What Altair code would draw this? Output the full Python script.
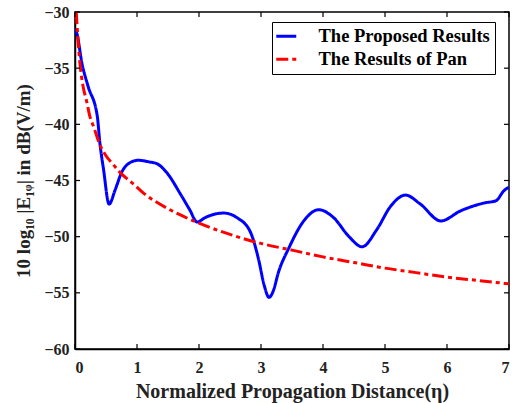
import altair as alt
import pandas as pd

# Blue: The Proposed Results
blue_x = [0.0, 0.03, 0.11, 0.21, 0.36, 0.40, 0.46, 0.55, 0.65, 0.75, 0.89, 1.02, 1.20, 1.32,
          1.48, 1.70, 1.85, 1.97, 2.10, 2.25, 2.40, 2.61, 2.83, 2.96, 3.05, 3.13, 3.20, 3.28,
          3.45, 3.69, 3.93, 4.17, 4.42, 4.63, 4.87, 5.09, 5.33, 5.57, 5.90, 6.22, 6.60, 6.79,
          6.92, 7.0]
blue_y = [-31.5, -31.9, -34.5, -36.6, -39.3, -41.6, -44.0, -47.1, -45.8, -44.3, -43.4, -43.2,
          -43.35, -43.5, -44.3, -46.2, -47.6, -48.7, -48.3, -48.0, -47.9, -48.3, -49.6, -52.0,
          -54.3, -55.4, -54.8, -53.2, -51.0, -48.6, -47.6, -48.3, -50.0, -50.9, -49.35, -47.3,
          -46.3, -47.1, -48.6, -47.7, -47.0, -46.8, -45.9, -45.6]

# Red: The Results of Pan
red_x = [0.02, 0.05, 0.08, 0.13, 0.19, 0.24, 0.30, 0.40, 0.50, 0.62, 0.73, 0.94, 1.10, 1.25,
         1.53, 1.75, 2.0, 2.5, 3.0, 3.5, 4.0, 4.5, 5.0, 5.5, 6.0, 6.5, 7.0]
red_y = [-30.0, -32.6, -34.6, -36.6, -38.0, -39.3, -40.2, -41.8, -42.8, -43.6, -44.3, -45.3,
         -46.1, -46.7, -47.6, -48.2, -48.8, -49.8, -50.6, -51.2, -51.8, -52.3, -52.8, -53.2,
         -53.6, -53.9, -54.2]

series_names = ["The Proposed Results", "The Results of Pan"]
x_ticks = [0, 1, 2, 3, 4, 5, 6, 7]
y_ticks = [-60, -55, -50, -45, -40, -35, -30]

W, H = 434, 337
FONT = "Liberation Serif"

df = pd.concat([
    pd.DataFrame({"x": blue_x, "y": blue_y, "s": series_names[0], "o": range(len(blue_x))}),
    pd.DataFrame({"x": red_x, "y": red_y, "s": series_names[1], "o": range(len(red_x))}),
])

xs = alt.Scale(domain=[0, 7], nice=False, zero=False)
ys = alt.Scale(domain=[-60, -30], nice=False, zero=False)

lines = alt.Chart(df).mark_line(strokeWidth=3, interpolate="monotone", clip=True).encode(
    x=alt.X("x:Q", scale=xs,
            axis=alt.Axis(values=x_ticks, title="Normalized Propagation Distance(η)",
                          format="d", grid=False, ticks=False, labelPadding=10,
                          titlePadding=6)),
    y=alt.Y("y:Q", scale=ys,
            axis=alt.Axis(values=y_ticks, title="10 log₁₀ |E₁ᵩ| in dB(V/m)",
                          format="d", grid=False, ticks=False, labelPadding=6,
                          titlePadding=10)),
    color=alt.Color("s:N", scale=alt.Scale(domain=series_names, range=["#0000ff", "#ff0000"]),
                    legend=alt.Legend(title=None)),
    strokeDash=alt.StrokeDash("s:N", scale=alt.Scale(domain=series_names,
                                                     range=[[1, 0], [12, 4, 4, 4]]),
                              legend=alt.Legend(title=None)),
    order="o:Q",
)

xt = pd.DataFrame({"x": x_ticks})
yt = pd.DataFrame({"y": y_ticks})
tick_style = dict(color="black", strokeWidth=1.2)
bottom = alt.Chart(xt).mark_rule(**tick_style).encode(x=alt.X("x:Q", scale=xs), y=alt.value(H - 5), y2=alt.value(H))
top = alt.Chart(xt).mark_rule(**tick_style).encode(x=alt.X("x:Q", scale=xs), y=alt.value(0), y2=alt.value(5))
left = alt.Chart(yt).mark_rule(**tick_style).encode(y=alt.Y("y:Q", scale=ys), x=alt.value(0), x2=alt.value(5))
right = alt.Chart(yt).mark_rule(**tick_style).encode(y=alt.Y("y:Q", scale=ys), x=alt.value(W - 5), x2=alt.value(W))

chart = alt.layer(lines, bottom, top, left, right).properties(
    width=W, height=H,
    padding={"left": 75, "top": 12, "right": 6, "bottom": 54},
    autosize=alt.AutoSizeParams(type="none"),
).configure_view(
    stroke="black", strokeWidth=1.5
).configure_axis(
    domainColor="black", domainWidth=1.5,
    labelFont=FONT, labelFontWeight="bold", labelFontSize=16, labelColor="#222222",
    titleFont=FONT, titleFontWeight="bold", titleFontSize=20, titleColor="#222222",
).configure_axisY(
    titleFontSize=19,
).configure_legend(
    orient="none", legendX=197, legendY=10,
    strokeColor="black", fillColor="white", padding=5,
    labelFont=FONT, labelFontWeight="bold", labelFontSize=18.5, labelColor="black",
    symbolType="M-2,0H2", symbolSize=100, symbolStrokeWidth=3, rowPadding=4,
    symbolFillColor="transparent",
    labelOffset=23, labelLimit=300,
)

chart.save("out.html", embed_options={"renderer": "svg", "actions": False})
